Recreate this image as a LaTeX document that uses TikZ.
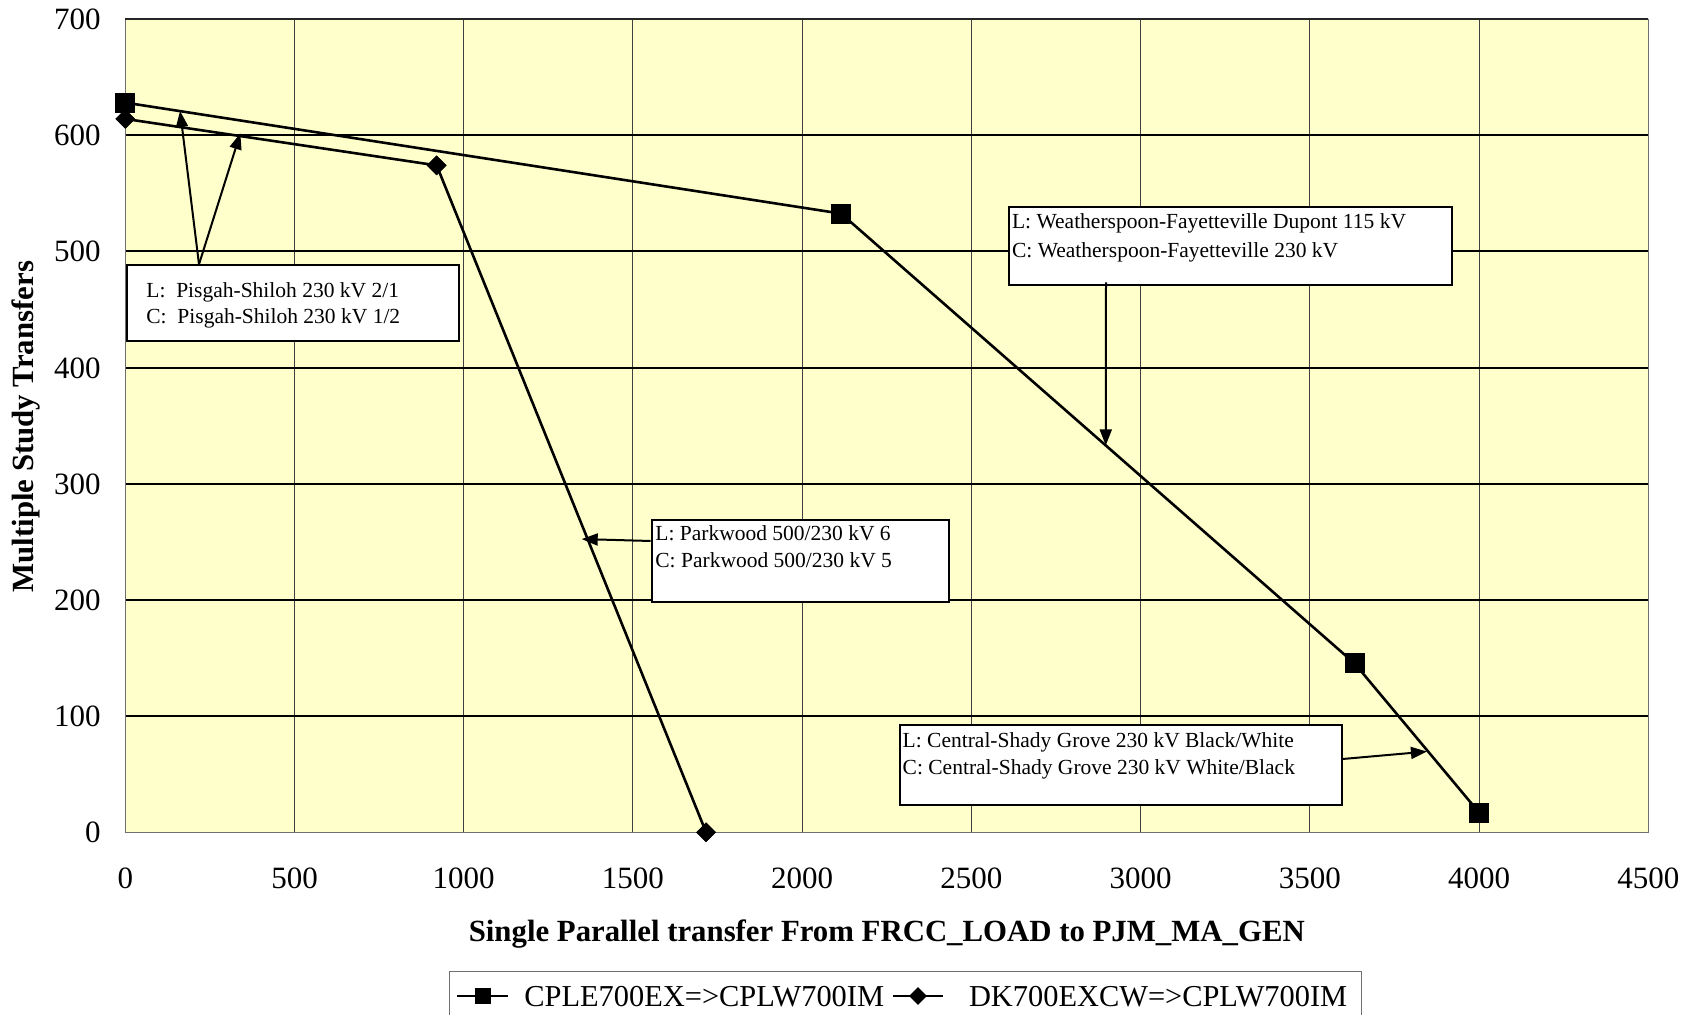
\documentclass[tikz,border=0pt]{standalone}
\usepackage{fontspec}
\setmainfont{Liberation Serif}
\usetikzlibrary{arrows.meta,shapes.geometric,calc}
\definecolor{plotbg}{HTML}{FFFFCC}
\definecolor{gridgray}{HTML}{404040}
\definecolor{framegray}{HTML}{707070}
\begin{document}
\begin{tikzpicture}[x=0.5pt,y=-0.5pt,
  tick/.style={font=\fontsize{15.5}{18}\selectfont, inner sep=0pt, text height=10.5pt, text depth=0pt},
  axtitle/.style={font=\fontsize{15.4}{18}\selectfont\bfseries, inner sep=0pt, text height=10.2pt, text depth=0pt},
  note/.style={font=\fontsize{10.75}{13}\selectfont, inner sep=0pt, text height=7.1pt, text depth=0pt, anchor=west},
  notebox/.style={draw=black, line width=1pt, fill=white, anchor=north west, inner sep=0pt},
  hgrid/.style={line width=1pt, black},
  vgrid/.style={line width=0.5pt, gridgray},
  series/.style={line width=1.3pt, black},
  sqmark/.style={rectangle, fill=black, minimum size=10pt, inner sep=0pt},
  dmmark/.style={diamond, fill=black, minimum width=10pt, minimum height=10pt, inner sep=0pt},
  callout/.style={line width=1pt, black, -{Triangle[length=8pt,width=6pt]}},
  legtext/.style={font=\fontsize{15.2}{18}\selectfont, inner sep=0pt, text height=10.1pt, text depth=0pt, anchor=west}
]
\useasboundingbox (0,0) rectangle (1694,1015);
\fill[white] (0,0) rectangle (1694,1015);

\begin{scope}[shift={(125.3,832.3)}, x=0.16922pt, y=0.58093pt]
  \fill[plotbg] (0,0) rectangle (4500,700);
  \foreach \xv in {500,1000,...,4000} \draw[vgrid] (\xv,0) -- (\xv,700);
  \foreach \yv in {100,200,...,600} \draw[hgrid] (0,\yv) -- (4500,\yv);
  \draw[line width=0.5pt, framegray] (0,700) -- (0,0) -- (4500,0) -- (4500,700);
  \draw[line width=1pt, black!85] (0,700) -- (4500,700);
  \foreach \yv in {0,100,...,700} \node[tick, anchor=east, xshift=-12.15pt] (yt\yv) at (0,\yv) {\yv};
  \foreach \xv in {0,500,...,4500} \node[tick, yshift=-22.85pt] (xt\xv) at (\xv,0) {\xv};

  % series 1 (squares)
  \node[sqmark] (s1a) at (0,628) {};
  \node[sqmark] (s1b) at (2115,532.5) {};
  \node[sqmark] (s1c) at (3632,145.4) {};
  \node[sqmark] (s1d) at (4000,17) {};
  % series 2 (diamonds)
  \node[dmmark] (s2a) at (0,614) {};
  \node[dmmark] (s2b) at (920,574) {};
  \node[dmmark] (s2c) at (1716,0) {};

  \coordinate (tipP1) at (161.8,620.8);
  \coordinate (tipP2) at (340,601.6);
  \coordinate (tipK) at (1348.5,252.4);
  \coordinate (tipW) at (2897,333);
  \coordinate (tipC) at (3846,69.5);
\end{scope}

\draw[series] (s1a.center) -- (s1b.center) -- (s1c.center) -- (s1d.center);
\draw[series] (s2a.center) -- (s2b.center) -- (s2c.center);
\node[sqmark] at (s1a) {};
\node[sqmark] at (s1b) {};
\node[sqmark] at (s1c) {};
\node[sqmark] at (s1d) {};
\node[dmmark] at (s2a) {};
\node[dmmark] at (s2b) {};
\node[dmmark] at (s2c) {};

% annotation boxes
\node[notebox, minimum width=166.15pt, minimum height=37.85pt] (pisbox) at (126,264.3) {};
\node[note] (pisL) at (146,290) {L:\ \ Pisgah-Shiloh 230 kV 2/1};
\node[note] (pisC) at (146,316.7) {C:\ \ Pisgah-Shiloh 230 kV 1/2};

\node[notebox, minimum width=148.65pt, minimum height=40.85pt] (parkbox) at (650.7,519.3) {};
\node[note] (parkL) at (655,533.3) {L: Parkwood 500/230 kV 6};
\node[note] (parkC) at (655,560) {C: Parkwood 500/230 kV 5};

\node[notebox, minimum width=221.65pt, minimum height=39.15pt] (weabox) at (1007.5,206) {};
\node[note] (weaL) at (1011.7,221.7) {L: Weatherspoon-Fayetteville Dupont 115 kV};
\node[note] (weaC) at (1011.7,250) {C: Weatherspoon-Fayetteville 230 kV};

\node[notebox, minimum width=221.05pt, minimum height=40pt] (cenbox) at (898.5,724.3) {};
\node[note] (cenL) at (902.3,740) {L: Central-Shady Grove 230 kV Black/White};
\node[note] (cenC) at (902.3,767.3) {C: Central-Shady Grove 230 kV White/Black};

% callout arrows
\coordinate (pisApex) at ($(pisbox.north west)+(73,0)$);
\draw[callout] (pisApex) -- (tipP1);
\draw[callout] (pisApex) -- (tipP2);
\draw[callout] ($(parkbox.north west)+(0,21.7)$) -- (tipK);
\draw[callout] ($(weabox.south west)+(98.5,-4)$) -- (tipW);
\draw[callout] ($(cenbox.north east)+(0,34.7)$) -- (tipC);

% axis titles
\node[axtitle, rotate=90] (ytitle) at (23.3,426.7) {Multiple Study Transfers};
\node[axtitle] (xtitle) at (886.8,931.5) {Single Parallel transfer From FRCC\_LOAD to PJM\_MA\_GEN};

% legend
\node[draw=framegray, line width=0.5pt, anchor=north west, minimum width=456.2pt, minimum height=30pt, inner sep=0pt] (legbox) at (448.6,971.5) {};
\coordinate (l1a) at (457,996);
\coordinate (l1b) at (508,996);
\draw[series] (l1a) -- (l1b);
\node[sqmark, minimum size=8pt] (l1m) at ($(l1a)!0.5!(l1b)$) {};
\node[legtext] (l1t) at (524,996) {CPLE700EX=>CPLW700IM};
\coordinate (l2a) at (893,996);
\coordinate (l2b) at (943,996);
\draw[series] (l2a) -- (l2b);
\node[dmmark, minimum width=9pt, minimum height=9pt] (l2m) at ($(l2a)!0.5!(l2b)$) {};
\node[legtext] (l2t) at (968.6,996) {DK700EXCW=>CPLW700IM};
\end{tikzpicture}
\end{document}
